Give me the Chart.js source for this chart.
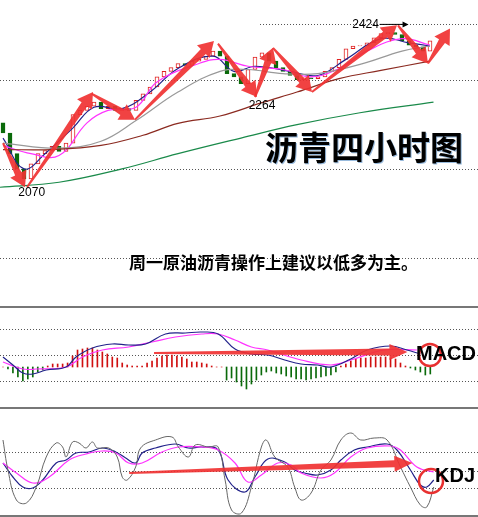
<!DOCTYPE html>
<html lang="zh">
<head>
<meta charset="UTF-8">
<title>沥青四小时图</title>
<script src="https://cdn.jsdelivr.net/npm/chart.js"></script>
<style>
    body { margin: 0; background: #fff; width: 478px; height: 517px; overflow: hidden; position: relative; font-family: "Noto Sans CJK SC", sans-serif; }
    .pane { position: absolute; left: 0; width: 478px; }
    .sep { position: absolute; left: 0; width: 478px; height: 0; border-top: 2px solid #777; }
    .txt { position: absolute; font-weight: bold; color: #000; white-space: nowrap; }
</style>
</head>
<body>
<div class="pane" style="top:0;height:306px"><canvas id="main" width="478" height="306"></canvas></div>
<div class="pane" style="top:308px;height:100px"><canvas id="macd" width="478" height="100"></canvas></div>
<div class="pane" style="top:409px;height:107px"><canvas id="kdj" width="478" height="107"></canvas></div>
<div class="sep" style="top:306px"></div>
<div class="sep" style="top:407px"></div>
<div class="sep" style="top:515px"></div>
<div class="txt" style="left:265px;top:122px;font-size:33px;text-shadow:1px 1px 0 #9bd">沥青四小时图</div>
<div class="txt" style="left:129px;top:249px;font-size:17px">周一原油沥青操作上建议以低多为主。</div>
<div class="txt" style="left:416px;top:342px;font-size:20px;font-family:Arial,sans-serif">MACD</div>
<div class="txt" style="left:435px;top:464px;font-size:20px;font-family:Arial,sans-serif">KDJ</div>
<script>
// candles (4h)
const opens  = [2210,2188,2143,2110,2088,2121,2143,2150,2159,2148,2166,2228,2237,2246,2255,2241,2246,2237,2241,2237,2259,2273,2288,2310,2322,2330,2339,2335,2344,2348,2355,2366,2355,2317,2310,2295,2326,2353,2362,2344,2330,2322,2313,2304,2308,2306,2310,2322,2330,2348,2371,2377,2377,2384,2395,2404,2406,2402,2388,2379,2375,2366];
const closes = [2188,2143,2110,2088,2121,2143,2150,2159,2148,2166,2228,2237,2246,2255,2241,2246,2237,2241,2237,2259,2273,2288,2310,2322,2330,2339,2335,2344,2348,2355,2366,2355,2317,2310,2295,2326,2353,2362,2344,2330,2322,2313,2304,2308,2306,2310,2322,2330,2348,2371,2377,2377,2384,2395,2404,2406,2402,2388,2379,2375,2366,2388];

// moving averages as [index, price]
const maBlue    = [[0,2177],[3,2110],[6,2143],[10,2199],[13,2244],[17,2241],[21,2277],[25,2328],[30,2355],[33,2322],[36,2333],[41,2322],[45,2313],[49,2348],[54,2393],[58,2384],[61,2377]];
const maMagenta = [[0,2161],[4,2143],[8,2139],[12,2210],[15,2237],[19,2244],[22,2299],[28,2339],[31,2348],[35,2333],[40,2326],[44,2310],[48,2328],[52,2366],[57,2393],[61,2379]];
const maGray    = [[0,2166],[8,2155],[14,2170],[19,2215],[25,2277],[31,2322],[35,2326],[40,2317],[45,2317],[51,2337],[57,2366],[61,2377]];
const maBrown   = [[0,2152],[7,2152],[14,2161],[20,2183],[25,2209],[31,2225],[37,2254],[42,2277],[48,2306],[54,2324],[61,2344]];
const maGreen   = [[-0.5,2070],[8,2081],[17,2110],[25,2143],[34,2177],[42,2206],[51,2232],[61.5,2255]];

// annotation arrows [fromIdx, fromPrice, toIdx, toPrice]
const arrows = [[0,2166,3.14,2070],[3.43,2070,12.86,2277],[12.71,2273,18.86,2217],[18.86,2217,30.14,2388],
                [30.71,2382,36.29,2266],[36,2266,38.57,2373],[38.57,2373,44.14,2277],[44.14,2277,56.29,2422],
                [56.43,2422,60.71,2339],[60.71,2339,63.86,2415]];
const priceLabels = [['2070',4.1,2072],['2264',37,2261],['2424',51.8,2437]];

// MACD
const macdHist = [0,-2,-6,-10,-14,-12,-10,-5,-3,1,3,3,3,4,11,17,18,19,19,17,15,13,10,9,4,2,1,1,1,4,6,9,11,12,12,11,10,8,5,5,4,3,1,0,0,-13,-11,-15,-19,-22,-17,-13,-8,-5,-4,-6,-7,-9,-10,-12,-12,-13,-12,-11,-10,-9,-8,-5,1,3,6,8,9,9,10,10,10,10,9,8,4,1,-1,-3,-5,-8,-7];
const difLine = [[0,10],[2,2],[4,-6],[6,-7],[8.7,-3],[12.7,0],[14.7,10],[18,19],[22,23],[25.3,22],[28.7,23],[32.7,33],[36.7,34],[40,35],[43.3,33],[46.7,18],[50,13],[53.3,12],[56.7,7],[60,3],[63.3,2],[66,0],[70,8],[73.3,17],[78,21],[81.3,17],[84,13]];
const deaLine = [[0,5],[4,-2],[6.7,-2],[12.7,0],[16,10],[20,17],[25.3,20],[30,25],[34.7,30],[40,33],[43.3,33],[46.7,27],[50,20],[53.3,17],[60,7],[66,2],[70,7],[76.7,17],[83.3,17]];

// KDJ
const kLine = [[0,53],[2,39],[4,29],[6,28],[8,36],[10.7,53],[12.7,56],[14.7,63],[17.3,64],[20,68],[22.7,64],[24.7,58],[26.7,53],[28,63],[30.7,68],[34.7,72],[37.3,68],[40,69],[43.3,66],[45.3,36],[48.7,24],[50.7,39],[53.3,57],[56.7,54],[58.7,46],[60.7,43],[63.3,41],[66,46],[68,56],[70.7,66],[73.3,69],[77.3,72],[79.3,66],[82,46],[84,31],[85.3,29],[86.7,36]];
const dLine = [[0,53],[2.7,43],[6,33],[9.3,39],[13.3,56],[16.7,62],[20,65],[22.7,63],[25.3,53],[28,53],[32,64],[35.3,69],[40,69],[43.3,66],[46.7,53],[49.3,34],[52,41],[55.3,53],[58,51],[60,43],[64,38],[66.7,43],[70,59],[73.3,68],[78,70],[80,66],[83.3,49],[86.7,44]];
const jLine = [[0,76],[1,46],[2.7,16],[4.7,13],[6.7,29],[8.7,59],[10.7,73],[12,69],[12.7,59],[14,74],[15.3,73],[16.7,68],[18,74],[19,68],[21.3,68],[23,59],[24,39],[25,36],[26.7,49],[27.7,68],[30.7,76],[34,79],[35.3,69],[37.3,59],[38.7,71],[41.3,69],[43.3,69],[44.7,36],[46,6],[48,3],[50,29],[52,69],[53,76],[54.7,59],[57.3,49],[58.7,29],[60,16],[62,23],[64,46],[66,56],[68,76],[70,83],[72,76],[74.7,78],[77.3,76],[80,49],[82,29],[84,11],[85.3,9],[86.7,29]];

const pts = a => a.map(p => ({x: p[0], y: p[1]}));

function line(data, color, width) {
    return { type: 'line', data: pts(data), borderColor: color, borderWidth: width || 1,
             pointRadius: 0, tension: 0.4, fill: false };
}

// dotted guide lines: [value, fromPixelX]
const guides = {
    id: 'guides',
    beforeDatasetsDraw(chart, args, opts) {
        const c = chart.ctx, y = chart.scales.y;
        c.save();
        c.strokeStyle = '#555';
        c.lineWidth = 1;
        c.setLineDash([1, 2]);
        (opts.lines || []).forEach(l => {
            const py = Math.round(y.getPixelForValue(l[0])) + 0.5;
            c.beginPath(); c.moveTo(l[1], py); c.lineTo(chart.width, py); c.stroke();
        });
        c.restore();
    }
};

function drawArrow(c, x0, y0, x1, y1, w0, w1, head, hw) {
    const dx = x1 - x0, dy = y1 - y0, len = Math.hypot(dx, dy);
    const ux = dx / len, uy = dy / len, nx = -uy, ny = ux;
    const bx = x1 - ux * head, by = y1 - uy * head;
    c.beginPath();
    c.moveTo(x0 + nx * w0 / 2, y0 + ny * w0 / 2);
    c.lineTo(bx + nx * w1 / 2, by + ny * w1 / 2);
    c.lineTo(bx + nx * hw, by + ny * hw);
    c.lineTo(x1, y1);
    c.lineTo(bx - nx * hw, by - ny * hw);
    c.lineTo(bx - nx * w1 / 2, by - ny * w1 / 2);
    c.lineTo(x0 - nx * w0 / 2, y0 - ny * w0 / 2);
    c.closePath();
    c.fill();
}

const marks = {
    id: 'marks',
    afterDatasetsDraw(chart, args, opts) {
        const c = chart.ctx, xs = chart.scales.x, ys = chart.scales.y;
        c.save();
        c.fillStyle = 'rgba(240,50,50,0.92)';
        (opts.arrows || []).forEach(a => {
            drawArrow(c, xs.getPixelForValue(a[0]), ys.getPixelForValue(a[1]),
                      xs.getPixelForValue(a[2]), ys.getPixelForValue(a[3]),
                      a[4] || 2, a[5] || 7, a[6] || 15, a[7] || 9);
        });
        c.fillStyle = '#000';
        c.font = '12px Arial, sans-serif';
        (opts.labels || []).forEach(l => {
            const px = xs.getPixelForValue(l[1]), py = ys.getPixelForValue(l[2]);
            c.textAlign = 'center'; c.textBaseline = 'top';
            c.fillText(l[0], px, py);
            if (l[0] === '2424') {
                c.strokeStyle = '#000'; c.lineWidth = 1;
                c.beginPath(); c.moveTo(px + 14, py + 6); c.lineTo(px + 40, py + 6); c.stroke();
                c.beginPath(); c.moveTo(px + 43, py + 6); c.lineTo(px + 37, py + 3); c.lineTo(px + 37, py + 9); c.fill();
            }
        });
        c.strokeStyle = '#e83030';
        c.lineWidth = 2.5;
        (opts.circles || []).forEach(r => {
            c.beginPath(); c.arc(r[0], r[1], r[2], 0, Math.PI * 2); c.stroke();
        });
        c.restore();
    }
};

const baseOpts = (xmin, xmax, ymin, ymax) => ({
    responsive: false, animation: false,
    layout: { padding: 0 },
    plugins: { legend: { display: false }, tooltip: { enabled: false } },
    scales: {
        x: { type: 'linear', min: xmin, max: xmax, offset: false, display: false },
        y: { type: 'linear', min: ymin, max: ymax, display: false }
    }
});

// main price chart
const mainOpts = baseOpts(-0.43, 67.86, 1812, 2477);
mainOpts.plugins.guides = { lines: [[2424, 260], [2304, 0], [2110, 0], [1916, 0]] };
mainOpts.plugins.marks = { arrows: arrows, labels: priceLabels };
new Chart(document.getElementById('main'), {
    type: 'bar',
    data: {
        datasets: [
            line(maGreen, '#1a8a4a', 1.2),
            line(maBrown, '#8b2a20', 1.2),
            line(maGray, '#999', 1.2),
            line(maMagenta, '#ff33ff', 1.2),
            line(maBlue, '#22228a', 1.2),
            {
                type: 'bar',
                data: closes.map((c, i) => ({ x: i, y: [opens[i], c === opens[i] ? c + 1 : c] })),
                barThickness: 4,
                borderWidth: 1,
                borderSkipped: false,
                borderColor: closes.map((c, i) => c >= opens[i] ? '#e02020' : '#0a6a0a'),
                backgroundColor: closes.map((c, i) => c >= opens[i] ? '#fff' : '#0a6a0a')
            }
        ]
    },
    options: mainOpts,
    plugins: [guides, marks]
});

// MACD
const macdOpts = baseOpts(-0.6, 95.6, -41, 59);
macdOpts.plugins.guides = { lines: [[38, 0], [12, 0], [-14, 0]] };
macdOpts.plugins.marks = { arrows: [[30.4, 14, 81.4, 15, 2, 7, 18, 8]], circles: [[430, 47, 11]] };
new Chart(document.getElementById('macd'), {
    type: 'bar',
    data: {
        datasets: [
            line(difLine, '#22228a', 1.2),
            line(deaLine, '#ff33ff', 1.2),
            {
                type: 'bar',
                data: macdHist.map((v, i) => ({ x: i, y: v })),
                barThickness: 1,
                backgroundColor: macdHist.map(v => v >= 0 ? '#d01010' : '#0a6a0a')
            }
        ]
    },
    options: macdOpts,
    plugins: [guides, marks]
});

// KDJ
const kdjOpts = baseOpts(-0.6, 95.6, 0, 107);
kdjOpts.plugins.guides = { lines: [[64, 0], [45, 0], [28, 0]] };
kdjOpts.plugins.marks = { arrows: [[25.4, 43, 82.4, 53, 2, 7, 18, 8]], circles: [[431, 72, 12]] };
new Chart(document.getElementById('kdj'), {
    type: 'line',
    data: {
        datasets: [
            line(jLine, '#666', 1),
            line(dLine, '#ff33ff', 1.2),
            line(kLine, '#22228a', 1.2)
        ]
    },
    options: kdjOpts,
    plugins: [guides, marks]
});
</script>
</body>
</html>
